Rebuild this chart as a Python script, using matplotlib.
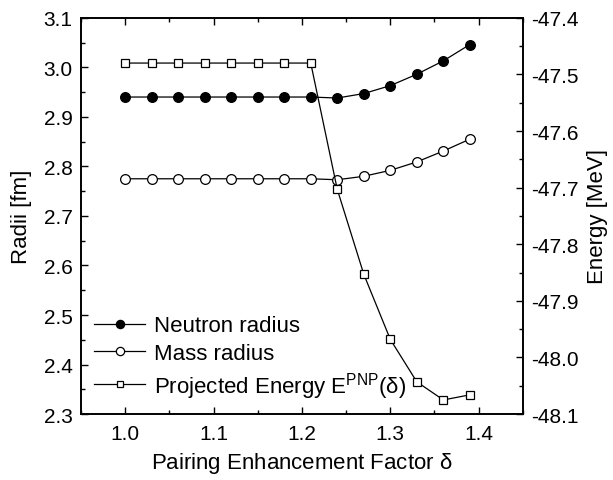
import matplotlib
matplotlib.use("Agg")
import matplotlib.pyplot as plt
from matplotlib.ticker import MultipleLocator

plt.rcParams["font.family"] = ["Liberation Sans", "DejaVu Sans"]
plt.rcParams["mathtext.fontset"] = "custom"
plt.rcParams["mathtext.rm"] = "Liberation Sans"
plt.rcParams["mathtext.it"] = "Liberation Sans"
plt.rcParams["axes.unicode_minus"] = False

# ---- data ---------------------------------------------------------------
delta = [1.00, 1.03, 1.06, 1.09, 1.12, 1.15, 1.18, 1.21,
         1.24, 1.27, 1.30, 1.33, 1.36, 1.39]
neutron_radius = [2.940, 2.940, 2.940, 2.940, 2.940, 2.940, 2.940, 2.940,
                  2.938, 2.947, 2.963, 2.986, 3.013, 3.046]
mass_radius = [2.775, 2.775, 2.775, 2.775, 2.775, 2.775, 2.775, 2.775,
               2.773, 2.780, 2.792, 2.809, 2.831, 2.855]
energy_pnp = [-47.480, -47.480, -47.480, -47.480, -47.480, -47.480, -47.480, -47.480,
              -47.703, -47.853, -47.968, -48.043, -48.075, -48.066]

fig = plt.figure(figsize=(6.13, 4.81), dpi=100)
ax = fig.add_axes([0.132, 0.137, 0.721, 0.824])
ax2 = ax.twinx()

l1, = ax.plot(delta, neutron_radius, "-o", color="black", lw=0.9,
              ms=7, mfc="black", mec="black", mew=0.9)
l2, = ax.plot(delta, mass_radius, "-o", color="black", lw=0.9,
              ms=7, mfc="white", mec="black", mew=0.9)
l3, = ax2.plot(delta, energy_pnp, "-s", color="black", lw=0.9,
               ms=5.8, mfc="white", mec="black", mew=0.9)

ax.set_xlim(0.95, 1.45)
ax.set_ylim(2.3, 3.1)
ax2.set_ylim(-48.1, -47.4)

ax.xaxis.set_major_locator(MultipleLocator(0.1))
ax.xaxis.set_minor_locator(MultipleLocator(0.05))
ax.yaxis.set_major_locator(MultipleLocator(0.1))
ax.yaxis.set_minor_locator(MultipleLocator(0.05))
ax2.yaxis.set_major_locator(MultipleLocator(0.1))
ax2.yaxis.set_minor_locator(MultipleLocator(0.05))

ax.tick_params(which="both", direction="in", top=True, right=False,
               labelsize=15, width=1, pad=6)
ax.tick_params(axis="x", which="both", pad=7)
ax.tick_params(which="major", length=5)
ax.tick_params(which="minor", length=3)
ax2.tick_params(which="both", direction="in", labelsize=15, width=1, pad=6)
ax2.tick_params(which="major", length=5)
ax2.tick_params(which="minor", length=3)
for a in (ax, ax2):
    for s in a.spines.values():
        s.set_linewidth(1.2)

ax.set_xlabel(r"Pairing Enhancement Factor $\delta$", fontsize=16, labelpad=5)
ax.set_ylabel("Radii [fm]", fontsize=16, labelpad=8)
ax2.set_ylabel("Energy [MeV]", fontsize=16, labelpad=6)

ax.legend([l1, l2, l3],
          ["Neutron radius", "Mass radius",
           r"Projected Energy E$^{\mathrm{PNP}}$($\delta$)"],
          loc="lower left", frameon=False, fontsize=16, markerscale=0.85,
          handlelength=2.3, handletextpad=0.4, labelspacing=0.28,
          borderaxespad=0.3, borderpad=0.3)

fig.savefig("out.png", dpi=100, facecolor="white")
